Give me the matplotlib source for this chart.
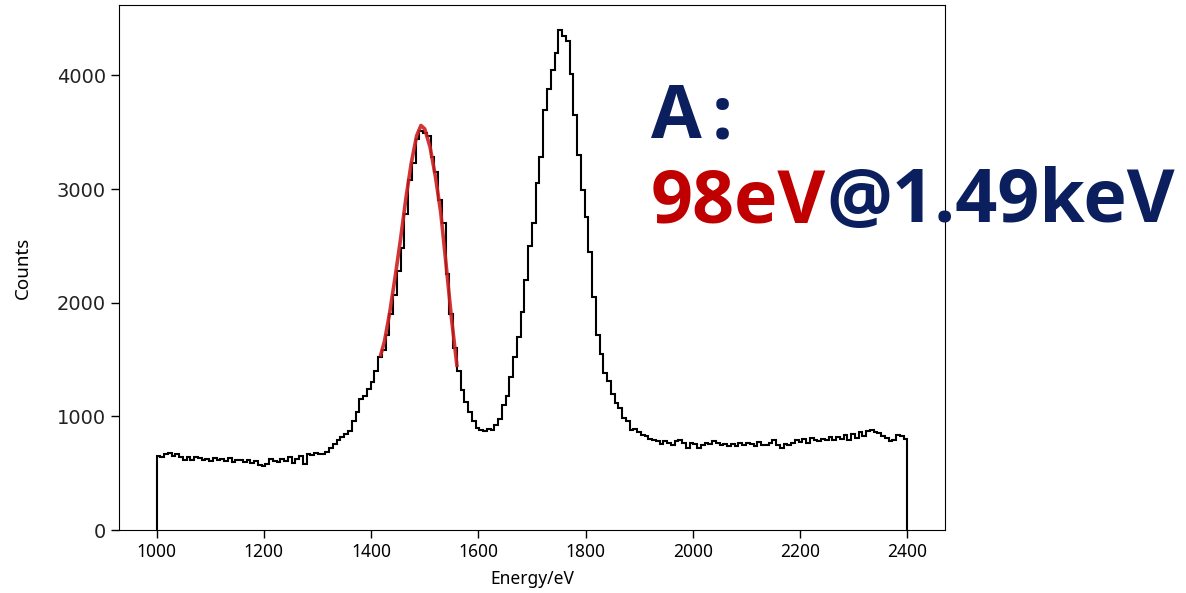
import matplotlib
matplotlib.use("Agg")
import matplotlib.pyplot as plt
import numpy as np

# histogram: 7 eV bins starting at 1000 eV
bin_start = 1000
bin_width = 7
counts = [
    655, 640, 672, 680, 655, 668, 640, 612, 645, 615,
    640, 632, 620, 628, 610, 635, 618, 625, 605, 630,
    598, 620, 612, 600, 618, 590, 605, 575, 560, 580,
    625, 610, 595, 628, 610, 640, 590, 625, 650, 580,
    665, 660, 680, 672, 665, 690, 720, 760, 790, 820,
    845, 870, 960, 1040, 1150, 1180, 1240, 1300, 1400, 1520,
    1580, 1720, 1900, 2070, 2280, 2480, 2780, 3080, 3230, 3440,
    3510, 3490, 3470, 3280, 3150, 2900, 2700, 2250, 1900, 1600,
    1400, 1230, 1130, 1040, 960, 900, 880, 875, 885, 880,
    920, 980, 1100, 1180, 1350, 1520, 1700, 1920, 2200, 2500,
    2700, 3050, 3280, 3700, 3880, 4050, 4200, 4400, 4350, 4300,
    4010, 3650, 3300, 2990, 2750, 2450, 2050, 1720, 1550, 1380,
    1310, 1200, 1120, 1070, 990, 960, 880, 890, 860, 840,
    830, 800, 795, 780, 760, 785, 770, 745, 780, 790,
    770, 720, 765, 755, 720, 750, 770, 760, 780, 765,
    750, 755, 740, 760, 735, 762, 745, 770, 755, 740,
    775, 750, 745, 770, 790, 750, 725, 760, 745, 770,
    790, 775, 800, 770, 810, 795, 785, 800, 790, 820,
    790, 815, 800, 840, 790, 845, 810, 860, 830, 870,
    880, 860, 855, 830, 810, 780, 790, 840, 830, 800,
]

# fitted peak (red curve)
fit_energy = [1418, 1425, 1435, 1445, 1455, 1465, 1475, 1485, 1493, 1500,
              1510, 1520, 1530, 1540, 1550, 1560]
fit_counts = [1540, 1660, 1920, 2230, 2560, 2920, 3230, 3470, 3560, 3530,
              3370, 3110, 2790, 2330, 1860, 1450]

x_ticks = [1000, 1200, 1400, 1600, 1800, 2000, 2200, 2400]
y_ticks = [0, 1000, 2000, 3000, 4000]

navy = "#0b1f5e"
red = "#c00000"
big_font = ["Open Sans", "DejaVu Sans"]

edges = bin_start + bin_width * np.arange(len(counts) + 1)

fig = plt.figure(figsize=(11.86, 5.93), dpi=100)
ax = fig.add_axes([0.1003, 0.1062, 0.6965, 0.8854])

ax.stairs(counts, edges, baseline=0, color="black", linewidth=1.5)
ax.plot(fit_energy, fit_counts, color="#cc1f1f", linewidth=2.6, alpha=0.9)

ax.set_xticks(x_ticks)
ax.set_yticks(y_ticks)
ax.tick_params(axis="y", labelsize=14, length=6, width=1, labelcolor="#222222")
ax.tick_params(axis="x", length=6, width=1)
for lab in ax.get_xticklabels():
    lab.set_fontfamily("Noto Sans")
    lab.set_fontsize(12.5)
ax.set_xlabel("Energy/eV", fontfamily="Noto Sans", fontsize=12.5, labelpad=6)
ax.set_ylabel("Counts", fontfamily="Noto Sans", fontsize=13.5, labelpad=18)

# annotation to the right of the plot
ta = fig.text(0.549, 0.767, "A", color=navy, fontsize=53, fontweight="bold",
              fontfamily=big_font, va="baseline", ha="left")
ax.annotate(":", xy=(1, 0), xycoords=ta, xytext=(10, 0),
            textcoords="offset pixels", color=navy, fontsize=53,
            fontweight="bold", fontfamily=big_font, va="bottom", ha="left",
            annotation_clip=False)
t1 = fig.text(0.549, 0.6256, "98eV", color=red, fontsize=53, fontweight="bold",
              fontfamily=big_font, va="baseline", ha="left")
ax.annotate("@1.49keV", xy=(1, 0), xycoords=t1, color=navy, fontsize=53,
            fontweight="bold", fontfamily=big_font, va="bottom", ha="left",
            annotation_clip=False)

fig.savefig("out.png", dpi=100)
